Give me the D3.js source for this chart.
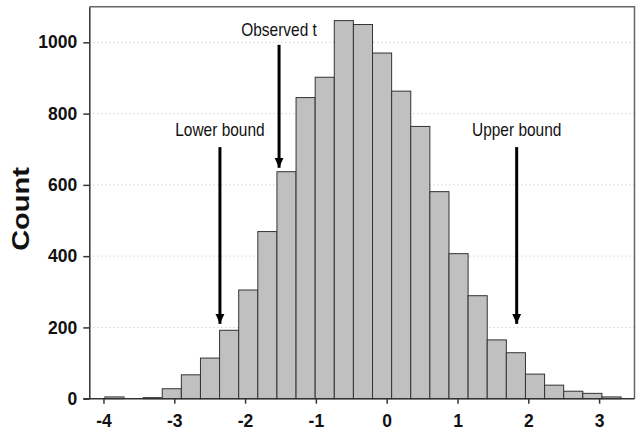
<!DOCTYPE html>
<html>
<head>
<meta charset="utf-8">
<script src="https://cdn.jsdelivr.net/npm/d3@7"></script>
<style>
  body { margin: 0; background: #fff; }
  text { font-family: "Liberation Sans", Arial, sans-serif; }
</style>
</head>
<body>
<svg></svg>
<script>
var width = 641;
var height = 432;

// bin edges (28) and counts (27)
var binEdges = [-3.98, -3.71, -3.44, -3.17, -2.90, -2.63, -2.36, -2.09, -1.82, -1.55,
    -1.28, -1.01, -0.74, -0.47, -0.20, 0.07, 0.34, 0.61, 0.88, 1.15,
    1.42, 1.69, 1.96, 2.23, 2.50, 2.77, 3.04, 3.31];
var counts = [5, 0, 3, 28, 67, 114, 192, 305, 469, 637,
    845, 902, 1061, 1050, 970, 863, 764, 581, 407, 289,
    165, 129, 69, 38, 21, 15, 5];

var xTicks = [-4, -3, -2, -1, 0, 1, 2, 3];
var yTicks = [0, 200, 400, 600, 800, 1000];

// annotation arrows: x position, label height, arrow start and tip (in counts)
var labels = ["Observed t", "Lower bound", "Upper bound"];
var labelX = [-1.52, -2.355, 1.836];
var labelY = [1019, 736, 736];
var arrowTop = [993, 706, 706];
var arrowTip = [648, 210, 210];

var bins = counts.map((c, i) => ({ x0: binEdges[i], x1: binEdges[i + 1], count: c }));
var notes = labels.map((l, i) => ({ text: l, x: labelX[i], ty: labelY[i], y0: arrowTop[i], y1: arrowTip[i] }));

var xScale = d3.scaleLinear()
    .domain([-4.2, 3.5])
    .range([89.3, 634.5]);

var yScale = d3.scaleLinear()
    .domain([0, 1100])
    .range([398.7, 6.7]);

var svg = d3.select("svg")
    .attr("width", width)
    .attr("height", height);

// dotted grid
svg.append("g")
    .selectAll("line")
    .data(yTicks.filter(d => d > 0))
    .enter()
    .append("line")
    .attr("x1", xScale.range()[0])
    .attr("x2", xScale.range()[1])
    .attr("y1", d => yScale(d))
    .attr("y2", d => yScale(d))
    .attr("stroke", "#bdbdbd")
    .attr("stroke-width", 1)
    .attr("stroke-dasharray", "1,3");

// bars
svg.append("g")
    .selectAll("rect")
    .data(bins)
    .enter()
    .append("rect")
    .attr("x", d => xScale(d.x0))
    .attr("y", d => yScale(d.count))
    .attr("width", d => xScale(d.x1) - xScale(d.x0))
    .attr("height", d => yScale(0) - yScale(d.count))
    .attr("fill", "#c0c0c0")
    .attr("stroke", "#333")
    .attr("stroke-width", 1);

// top and right border
svg.append("path")
    .attr("d", "M" + xScale.range()[0] + "," + yScale.range()[1] +
        "H" + xScale.range()[1] + "V" + yScale.range()[0])
    .attr("fill", "none")
    .attr("stroke", "#666")
    .attr("stroke-width", 1.5);

var xAxis = d3.axisBottom(xScale)
    .tickValues(xTicks)
    .tickFormat(d => String(d))
    .tickSize(5)
    .tickSizeOuter(0)
    .tickPadding(11);

var yAxis = d3.axisLeft(yScale)
    .tickValues(yTicks)
    .tickFormat(d => String(d))
    .tickSize(6)
    .tickSizeOuter(0)
    .tickPadding(6);

var gx = svg.append("g")
    .attr("transform", "translate(0," + yScale(0) + ")")
    .call(xAxis);
gx.select(".domain").attr("d", "M83.3,0H" + xScale.range()[1]);

var gy = svg.append("g")
    .attr("transform", "translate(" + xScale.range()[0] + ",0)")
    .call(yAxis);

svg.selectAll(".domain, .tick line")
    .attr("stroke", "#333")
    .attr("stroke-width", 1.5);
svg.selectAll(".tick text")
    .attr("font-family", "'Liberation Sans', Arial, sans-serif")
    .attr("font-size", "17.5px")
    .attr("font-weight", "bold")
    .attr("fill", "#111");

// y label
svg.append("text")
    .attr("transform", "translate(29,209) scale(0.83,1) rotate(-90)")
    .attr("text-anchor", "middle")
    .attr("font-size", "29px")
    .attr("font-weight", "bold")
    .attr("fill", "#111")
    .text("Count");

// arrowhead
svg.append("defs")
    .append("marker")
    .attr("id", "head")
    .attr("viewBox", "0 0 10 10")
    .attr("refX", 10)
    .attr("refY", 5)
    .attr("markerUnits", "userSpaceOnUse")
    .attr("markerWidth", 10)
    .attr("markerHeight", 10)
    .attr("orient", "auto")
    .append("path")
    .attr("d", "M0,0.5L10,5L0,9.5Z")
    .attr("fill", "#000");

var note = svg.append("g")
    .selectAll("g")
    .data(notes)
    .enter()
    .append("g");

note.append("line")
    .attr("x1", d => xScale(d.x))
    .attr("x2", d => xScale(d.x))
    .attr("y1", d => yScale(d.y0))
    .attr("y2", d => yScale(d.y1))
    .attr("stroke", "#000")
    .attr("stroke-width", 3)
    .attr("marker-end", "url(#head)");

note.append("text")
    .attr("transform", d => "translate(" + xScale(d.x) + "," + yScale(d.ty) + ") scale(0.86,1)")
    .attr("text-anchor", "middle")
    .attr("font-size", "18px")
    .attr("fill", "#111")
    .text(d => d.text);
</script>
</body>
</html>
